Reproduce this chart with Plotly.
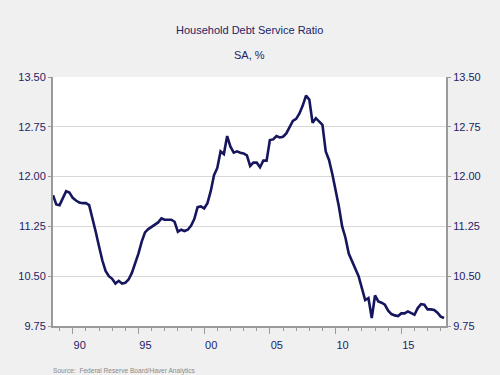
import plotly.graph_objects as go
import pandas as pd

# Quarterly data, 1988Q3 .. 2018Q2
quarters = [str(p) for p in pd.period_range("1988Q3", "2018Q2", freq="Q")]
dsr = [
    11.72, 11.58, 11.57, 11.68, 11.78, 11.76, 11.68, 11.64, 11.61, 11.60,
    11.60, 11.57, 11.38, 11.17, 10.95, 10.74, 10.58, 10.50, 10.46, 10.39,
    10.43, 10.39, 10.40, 10.45, 10.55, 10.68, 10.84, 11.02, 11.16, 11.21,
    11.24, 11.27, 11.31, 11.37, 11.35, 11.35, 11.35, 11.32, 11.17, 11.20,
    11.18, 11.20, 11.26, 11.36, 11.54, 11.55, 11.52, 11.60, 11.78, 12.02,
    12.13, 12.38, 12.34, 12.61, 12.45, 12.36, 12.38, 12.36, 12.35, 12.32,
    12.16, 12.21, 12.21, 12.14, 12.24, 12.24, 12.55, 12.56, 12.61, 12.59,
    12.60, 12.65, 12.74, 12.84, 12.87, 12.95, 13.07, 13.22, 13.16, 12.81,
    12.88, 12.83, 12.78, 12.38, 12.25, 12.04, 11.80, 11.55, 11.25, 11.08,
    10.84, 10.72, 10.62, 10.50, 10.32, 10.14, 10.17, 9.87, 10.21, 10.12,
    10.10, 10.07, 9.98, 9.93, 9.91, 9.90, 9.94, 9.94, 9.97, 9.94,
    9.92, 10.02, 10.08, 10.07, 10.00, 10.00, 9.99, 9.95, 9.89, 9.87,
]
assert len(quarters) == len(dsr)

year_ticks = [1990, 1995, 2000, 2005, 2010, 2015]
year_labels = ["90", "95", "00", "05", "10", "15"]
minor_years = list(range(1989, 2019))
y_ticks = [9.75, 10.50, 11.25, 12.00, 12.75, 13.50]

def qnum(q):
    y, n = q.split("Q")
    return int(y) + (int(n) - 1) * 0.25

x = [qnum(q) for q in quarters]

NAVY = "#16165e"
TXT = "#232366"
GRAYAX = "#9a9a9a"
BG = "#f0f0f0"
FONT = "Liberation Sans, Arial, sans-serif"

fig = go.Figure()
fig.add_trace(go.Scatter(x=x, y=dsr, mode="lines",
                         line=dict(color=NAVY, width=2.6),
                         showlegend=False, hoverinfo="skip"))
fig.add_trace(go.Scatter(x=x, y=dsr, mode="lines", yaxis="y2",
                         line=dict(color=NAVY, width=0), opacity=0,
                         showlegend=False, hoverinfo="skip"))

yax = dict(range=[9.75, 13.5], tickvals=y_ticks, tickformat=".2f",
           showgrid=True, gridcolor="#d8d8d8", gridwidth=1,
           showline=True, linecolor=GRAYAX, linewidth=2,
           ticks="outside", ticklen=3, tickcolor=GRAYAX,
           tickfont=dict(family=FONT, size=11, color=TXT),
           zeroline=False, fixedrange=True)

T, B, L, R = 77, 49, 53, 54
H_plot = 375 - T - B

def ypix(py):
    # convert page pixel (from top) to paper coordinate
    return (375 - B - py) / H_plot

fig.update_layout(
    width=500, height=375,
    paper_bgcolor=BG, plot_bgcolor="#ffffff",
    margin=dict(l=L, r=R, t=T, b=B, autoexpand=False),
    xaxis=dict(range=[1988.5, 2018.4], tickvals=year_ticks, ticktext=year_labels,
               ticks="outside", ticklen=6, tickcolor=GRAYAX, tickwidth=1,
               ticklabelshift=7, ticklabelstandoff=2,
               minor=dict(tickvals=minor_years, ticks="outside", ticklen=3,
                          tickcolor=GRAYAX, showgrid=False),
               showgrid=False, showline=True, linecolor=GRAYAX, linewidth=2,
               tickfont=dict(family=FONT, size=11, color=TXT),
               zeroline=False, fixedrange=True),
    yaxis=dict(side="left", **yax),
    yaxis2=dict(side="right", overlaying="y", **{**yax, "showgrid": False}),
    annotations=[
        dict(text="Household Debt Service Ratio", x=0.5, y=ypix(30), xref="paper", yref="paper",
             yanchor="middle", showarrow=False, font=dict(family=FONT, size=11, color=TXT)),
        dict(text="SA, %", x=0.5, y=ypix(55), xref="paper", yref="paper",
             yanchor="middle", showarrow=False, font=dict(family=FONT, size=11, color=TXT)),
        dict(text="Source:  Federal Reserve Board/Haver Analytics", x=-0.006, y=ypix(370.5),
             xref="paper", yref="paper", xanchor="left", yanchor="middle", showarrow=False,
             font=dict(family=FONT, size=6.6, color="#8a8a8a")),
    ],
)

fig.write_html(
    "out.html",
    config={"displayModeBar": False, "staticPlot": True},
    post_script=("document.body.style.margin='0';"
                 "document.body.style.background='%s';"
                 "document.body.style.overflow='hidden';" % BG),
)
